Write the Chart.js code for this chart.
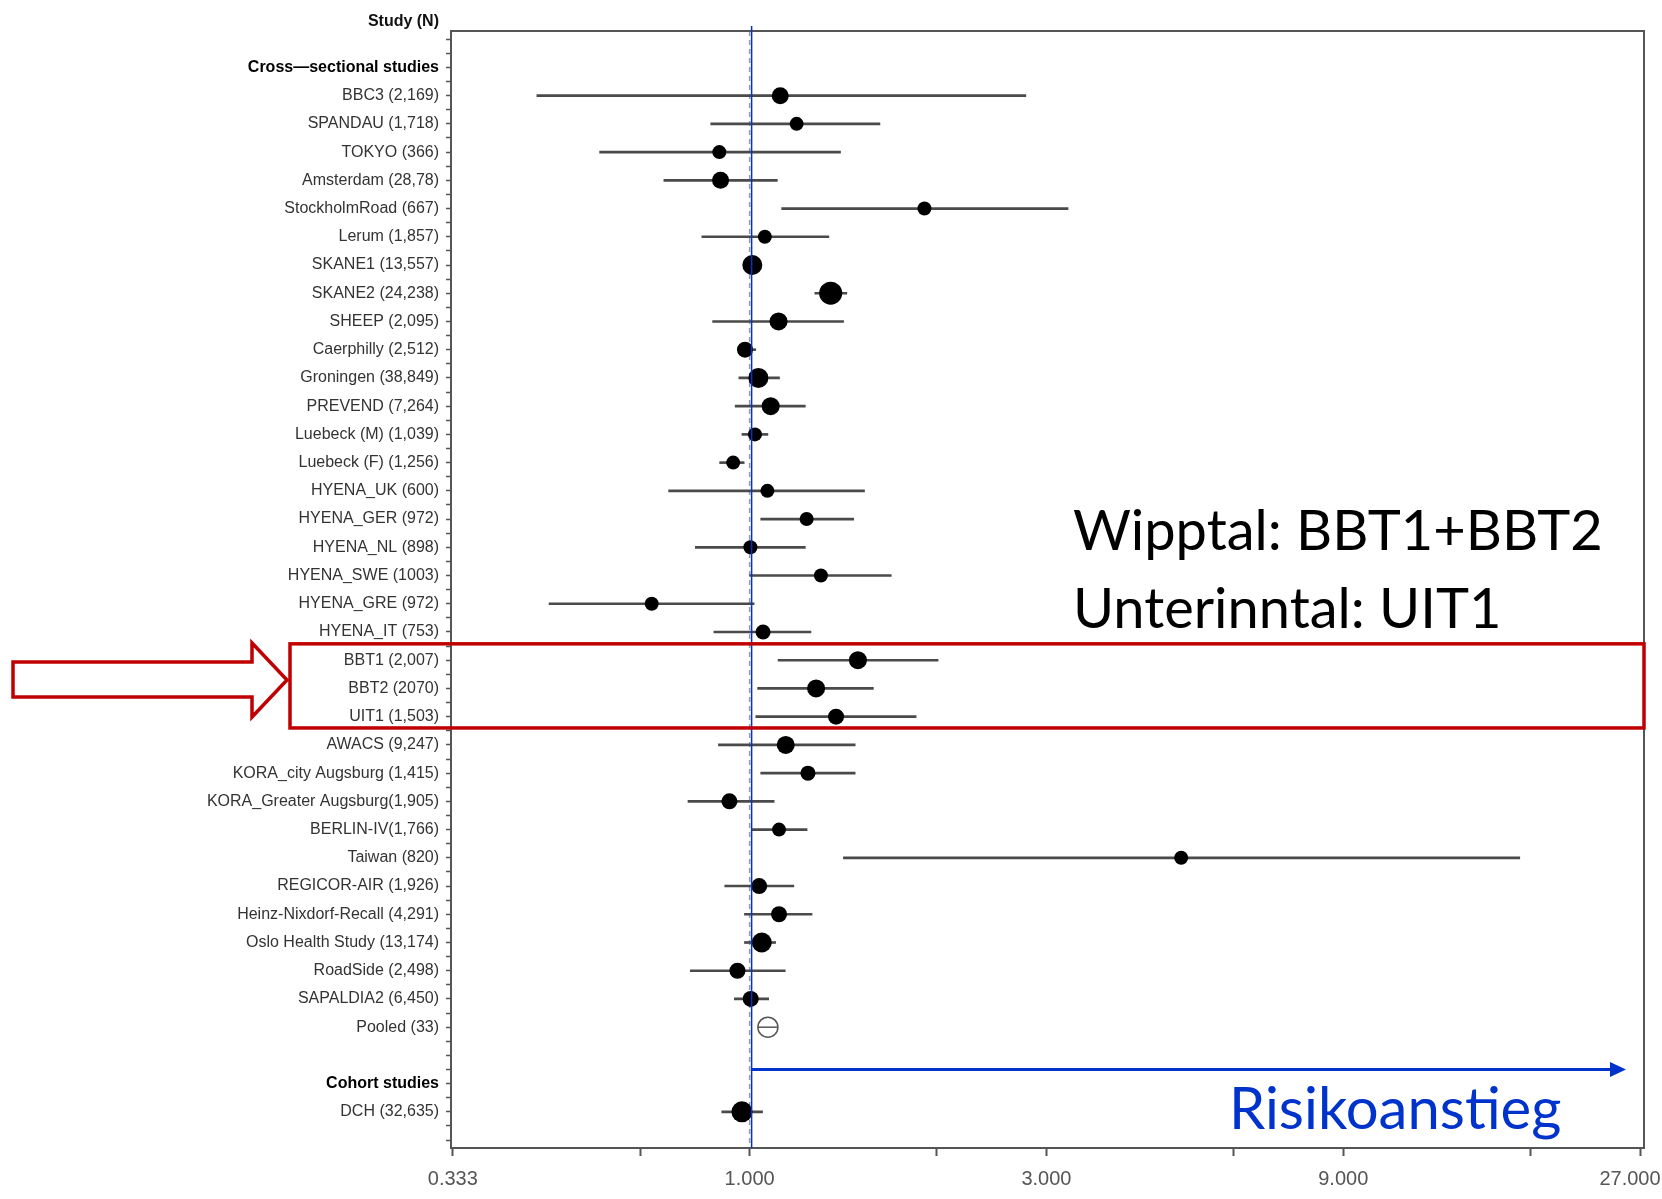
<!DOCTYPE html>
<html>
<head>
<meta charset="utf-8">
<title>Forest plot</title>
<script src="https://cdn.jsdelivr.net/npm/chart.js@4.4.1/dist/chart.umd.min.js"></script>
<style>
  html, body { margin: 0; padding: 0; background: #fff; }
  #wrap { position: relative; width: 1662px; height: 1199px; }
  .note { position: absolute; white-space: nowrap; line-height: 1; font-family: Lato, 'Open Sans', sans-serif; }
</style>
</head>
<body>
<div id="wrap">
  <canvas id="forest"></canvas>
  <div class="note" style="right:1223px; top:12px; font:bold 16px 'Liberation Sans', Arial, sans-serif; color:#111;">Study (N)</div>
  <div class="note" style="left:1073px; top:501px; font-size:56px; color:#000;">Wipptal: BBT1+BBT2</div>
  <div class="note" style="left:1073px; top:579px; font-size:56px; color:#000;">Unterinntal: UIT1</div>
  <div class="note" style="left:1229px; top:1078px; font-size:58px; color:#0033cc;">Risikoanstieg</div>
</div>
<script>
// y axis rows, top to bottom ('' = empty row)
var rowLabels = [
  'Cross—sectional studies',
  'BBC3 (2,169)', 'SPANDAU (1,718)', 'TOKYO (366)', 'Amsterdam (28,78)', 'StockholmRoad (667)',
  'Lerum (1,857)', 'SKANE1 (13,557)', 'SKANE2 (24,238)', 'SHEEP (2,095)', 'Caerphilly (2,512)',
  'Groningen (38,849)', 'PREVEND (7,264)', 'Luebeck (M) (1,039)', 'Luebeck (F) (1,256)',
  'HYENA_UK (600)', 'HYENA_GER (972)', 'HYENA_NL (898)', 'HYENA_SWE (1003)', 'HYENA_GRE (972)',
  'HYENA_IT (753)', 'BBT1 (2,007)', 'BBT2 (2070)', 'UIT1 (1,503)', 'AWACS (9,247)',
  'KORA_city Augsburg (1,415)', 'KORA_Greater Augsburg(1,905)', 'BERLIN-IV(1,766)', 'Taiwan (820)',
  'REGICOR-AIR (1,926)', 'Heinz-Nixdorf-Recall (4,291)', 'Oslo Health Study (13,174)',
  'RoadSide (2,498)', 'SAPALDIA2 (6,450)', 'Pooled (33)',
  '',
  'Cohort studies',
  'DCH (32,635)'
];
var headerRows = ['Cross—sectional studies', 'Cohort studies'];
var pooledName = 'Pooled (33)';

var studies = rowLabels.filter(function (r) { return r !== '' && headerRows.indexOf(r) < 0; });

// odds ratio with 95% CI
var estimate = [1.12, 1.19, 0.894, 0.898, 1.91, 1.058, 1.01, 1.35, 1.113, 0.983,
  1.033, 1.081, 1.02, 0.941, 1.068, 1.235, 1.003, 1.302, 0.696, 1.051,
  1.493, 1.279, 1.377, 1.143, 1.241, 0.928, 1.115, 4.94, 1.036, 1.115,
  1.046, 0.956, 1.004, 1.07, 0.972];
var lower = [0.455, 0.866, 0.574, 0.728, 1.126, 0.838, 0.985, 1.273, 0.872, 0.957,
  0.961, 0.948, 0.972, 0.895, 0.741, 1.042, 0.818, 1.0, 0.476, 0.876,
  1.111, 1.03, 1.023, 0.891, 1.042, 0.796, 1.007, 1.415, 0.912, 0.981,
  0.981, 0.803, 0.945, 1.06, 0.902];
var upper = [2.78, 1.62, 1.40, 1.108, 3.25, 1.341, 1.035, 1.433, 1.416, 1.023,
  1.117, 1.229, 1.07, 0.98, 1.53, 1.47, 1.229, 1.689, 1.017, 1.255,
  2.009, 1.581, 1.852, 1.478, 1.478, 1.095, 1.237, 17.3, 1.178, 1.26,
  1.101, 1.141, 1.073, 1.08, 1.049];
// marker weight (radius)
var weight = [8.5, 7, 7, 8.5, 7, 7, 10, 11.5, 9, 8,
  10, 9, 7, 7, 7, 7, 7, 7, 7, 7.5,
  9, 9, 8, 9, 7.5, 8, 7, 7, 8, 8,
  10, 8, 8, 10, 10.5];

var xTickValues = [1 / 3, 1, 3, 9, 27];
var xTickLabels = ['0.333', '1.000', '3.000', '9.000', '27.000'];
var xMinorTicks = [2 / 3, 2, 6, 18];

var rowOf = function (name) { return rowLabels.indexOf(name); };
var ciData = studies.map(function (s, i) { return { x: [lower[i], upper[i]], y: rowOf(s) }; });
var pointData = studies.map(function (s, i) { return { x: estimate[i], y: rowOf(s) }; });
var pooledIdx = studies.indexOf(pooledName);
var isPooled = function (c) { return c.dataIndex === pooledIdx; };

var overlay = {
  id: 'overlay',
  beforeDatasetsDraw: function (chart) {
    var ctx = chart.ctx, a = chart.chartArea;
    var x1 = chart.scales.x.getPixelForValue(1);
    ctx.save();
    ctx.strokeStyle = '#9a9a9a';
    ctx.lineWidth = 1.5;
    ctx.setLineDash([5, 4]);
    ctx.beginPath();
    ctx.moveTo(x1, a.top);
    ctx.lineTo(x1, a.bottom);
    ctx.stroke();
    ctx.restore();
  },
  afterDatasetsDraw: function (chart) {
    var ctx = chart.ctx, a = chart.chartArea;
    ctx.save();
    ctx.strokeStyle = '#555';
    ctx.lineWidth = 2;
    ctx.strokeRect(a.left, a.top, a.right - a.left, a.bottom - a.top);
    ctx.restore();
  },
  afterDraw: function (chart) {
    var ctx = chart.ctx, a = chart.chartArea;
    var xs = chart.scales.x, ys = chart.scales.y;
    var x1 = xs.getPixelForValue(1) + 2;
    ctx.save();
    // blue marker line at OR = 1
    ctx.strokeStyle = '#0033cc';
    ctx.lineWidth = 1.5;
    ctx.beginPath();
    ctx.moveTo(x1, a.top - 5);
    ctx.lineTo(x1, a.bottom);
    ctx.stroke();
    // blue arrow "Risikoanstieg"
    var ay = ys.getPixelForValue(35.5);
    ctx.lineWidth = 3;
    ctx.beginPath();
    ctx.moveTo(x1, ay);
    ctx.lineTo(1612, ay);
    ctx.stroke();
    ctx.fillStyle = '#0033cc';
    ctx.beginPath();
    ctx.moveTo(1626, ay);
    ctx.lineTo(1610, ay - 7.5);
    ctx.lineTo(1610, ay + 7.5);
    ctx.closePath();
    ctx.fill();
    // red box around BBT1, BBT2, UIT1
    ctx.strokeStyle = '#c00000';
    ctx.lineWidth = 3.5;
    var top = ys.getPixelForValue(rowOf('BBT1 (2,007)') - 0.58);
    var bot = ys.getPixelForValue(rowOf('UIT1 (1,503)') + 0.4);
    ctx.strokeRect(290, top, a.right - 290, bot - top);
    // red outline arrow
    ctx.fillStyle = '#fff';
    ctx.beginPath();
    ctx.moveTo(13, 662);
    ctx.lineTo(252, 662);
    ctx.lineTo(252, 643);
    ctx.lineTo(287, 680);
    ctx.lineTo(252, 717);
    ctx.lineTo(252, 697);
    ctx.lineTo(13, 697);
    ctx.closePath();
    ctx.fill();
    ctx.stroke();
    ctx.restore();
  }
};

new Chart(document.getElementById('forest'), {
  type: 'scatter',
  data: {
    datasets: [
      {
        type: 'bar',
        indexAxis: 'y',
        data: ciData,
        backgroundColor: '#4a4a4a',
        barThickness: 2,
        order: 3
      },
      {
        type: 'scatter',
        data: pointData,
        pointRadius: weight,
        backgroundColor: function (c) { return isPooled(c) ? '#fff' : '#000'; },
        borderColor: function (c) { return isPooled(c) ? '#555' : '#000'; },
        borderWidth: function (c) { return isPooled(c) ? 1.5 : 0; },
        order: 2
      },
      {
        type: 'scatter',
        data: [pointData[pooledIdx]],
        pointStyle: 'line',
        pointRadius: weight[pooledIdx],
        borderColor: '#555',
        borderWidth: 1.5,
        order: 1
      }
    ]
  },
  options: {
    responsive: true,
    maintainAspectRatio: false,
    animation: false,
    events: [],
    layout: { padding: { top: 31, right: 18, bottom: 0, left: 0 } },
    plugins: { legend: { display: false }, tooltip: { enabled: false } },
    scales: {
      x: {
        type: 'logarithmic',
        bounds: 'data',
        min: 0.3311,
        max: 27.4,
        afterFit: function (scale) {
          scale.height = 51;
          scale.paddingLeft = 0;
          scale.paddingRight = 0;
        },
        afterBuildTicks: function (scale) {
          scale.ticks = xTickValues.concat(xMinorTicks)
            .sort(function (p, q) { return p - q; })
            .map(function (v) { return { value: v }; });
        },
        border: { display: false },
        grid: { drawOnChartArea: false, tickLength: 8, tickWidth: 2, color: '#555' },
        ticks: {
          autoSkip: false,
          maxRotation: 0,
          padding: 11,
          color: '#555',
          font: { family: "'Liberation Sans', Arial, sans-serif", size: 20 },
          callback: function (value) {
            for (var i = 0; i < xTickValues.length; i++) {
              if (Math.abs(xTickValues[i] - value) < 1e-6) {
                // keep the last label inside the page
                return i === xTickValues.length - 1 ? xTickLabels[i] + '\u2003' : xTickLabels[i];
              }
            }
            return '';
          }
        }
      },
      y: {
        type: 'linear',
        bounds: 'data',
        reverse: true,
        min: -1.29,
        max: 38.28,
        offset: false,
        afterFit: function (scale) { scale.width = 451; },
        afterBuildTicks: function (scale) {
          var t = [];
          for (var v = -1; v <= 38; v += 0.5) t.push({ value: v });
          scale.ticks = t;
        },
        border: { display: false },
        grid: { drawOnChartArea: false, offset: false, tickLength: 5, tickWidth: 1.5, color: '#555' },
        ticks: {
          autoSkip: false,
          padding: 7,
          color: function (c) { return headerRows.indexOf(rowLabels[c.tick.value]) >= 0 ? '#000' : '#333'; },
          font: function (c) {
            var bold = headerRows.indexOf(rowLabels[c.tick && c.tick.value]) >= 0;
            return { family: "'Liberation Sans', Arial, sans-serif", size: 16, weight: bold ? 'bold' : 'normal' };
          },
          callback: function (value) {
            return Number.isInteger(value) && rowLabels[value] ? rowLabels[value] : '';
          }
        }
      }
    }
  },
  plugins: [overlay]
});
</script>
</body>
</html>
